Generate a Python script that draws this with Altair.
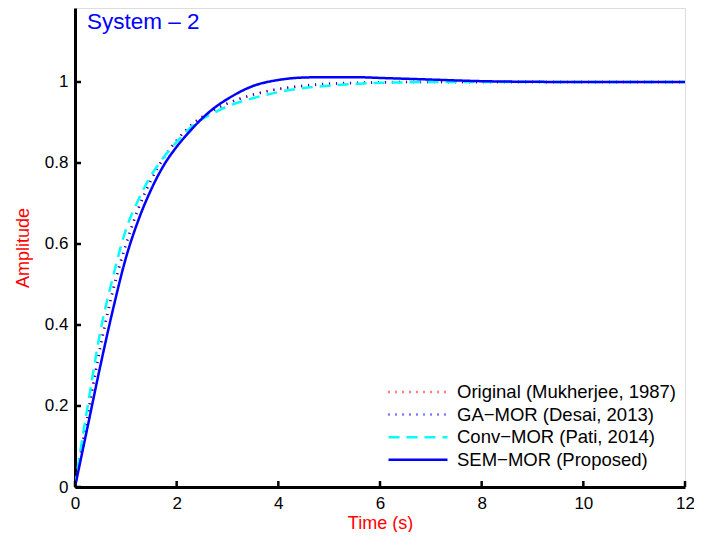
import altair as alt
import pandas as pd

# ---- data ----
t = [0, 0.1, 0.25, 0.5, 0.75, 1.0, 1.25, 1.5, 1.75, 2.0, 2.25, 2.5, 2.75, 3.0,
     3.5, 4.0, 4.5, 5.0, 5.5, 6.0, 6.5, 7.0, 8.0, 9.0, 10.0, 11.0, 12.0]

original = [0, 0.075, 0.18, 0.35, 0.49, 0.60, 0.69, 0.76, 0.815, 0.857, 0.89, 0.914, 0.932, 0.947,
            0.968, 0.982, 0.99, 0.995, 0.997, 0.999, 1.0, 1.0, 1.0, 1.0, 1.0, 1.0, 1.0]
ga_mor = [0, 0.07, 0.175, 0.345, 0.485, 0.597, 0.688, 0.758, 0.813, 0.855, 0.889, 0.913, 0.932, 0.947,
          0.969, 0.983, 0.991, 0.996, 0.998, 0.999, 1.0, 1.0, 1.0, 1.0, 1.0, 1.0, 1.0]
conv_mor = [0, 0.085, 0.20, 0.385, 0.52, 0.635, 0.71, 0.77, 0.815, 0.852, 0.885, 0.908, 0.925, 0.94,
            0.96, 0.975, 0.985, 0.991, 0.995, 0.998, 0.999, 1.0, 1.0, 1.0, 1.0, 1.0, 1.0]
sem_mor = [0, 0.06, 0.15, 0.30, 0.44, 0.565, 0.66, 0.735, 0.795, 0.84, 0.877, 0.91, 0.937, 0.958,
           0.99, 1.005, 1.011, 1.012, 1.012, 1.010, 1.008, 1.006, 1.002, 1.0005, 1.0, 1.0, 1.0]

names = ["Original (Mukherjee, 1987)", "GA\u2212MOR (Desai, 2013)",
         "Conv\u2212MOR (Pati, 2014)", "SEM\u2212MOR (Proposed)"]
series_values = [original, ga_mor, conv_mor, sem_mor]
colors = ["#FF0000", "#0000FF", "#00FFFF", "#0000FF"]
dashes = [[1, 6], [1, 6], [11, 7], [1, 0]]
widths = [2.5, 2.5, 4, 4]

x_ticks = [0, 2, 4, 6, 8, 10, 12]
y_ticks = [0, 0.2, 0.4, 0.6, 0.8, 1.0]
panel_label = ["System \u2013 2"]

rows = []
for name, vals in zip(names, series_values):
    for ti, vi in zip(t, vals):
        rows.append({"t": ti, "v": vi, "series": name})
df = pd.DataFrame(rows)

W, H = 610, 479
FONT = "Liberation Sans"
SYM = 17  # nominal symbol box (sets legend row height)

x_axis = alt.Axis(values=x_ticks, format="~g", title="Time (s)", titleColor="#FF0000",
                  titleFontSize=18, titleFontWeight="normal", titleFont=FONT, titlePadding=3,
                  labelFont=FONT, labelFontSize=17, labelColor="black", labelPadding=8,
                  labelFlush=False, ticks=False, grid=False, domainColor="black", domainWidth=3)
y_axis = alt.Axis(values=y_ticks, format="~g", title="Amplitude", titleColor="#FF0000",
                  titleFontSize=18, titleFontWeight="normal", titleFont=FONT, titlePadding=12,
                  labelFont=FONT, labelFontSize=17, labelColor="black", labelPadding=7,
                  labelFlush=False, ticks=False, grid=False, domainColor="black", domainWidth=3)

x_scale = alt.Scale(domain=[0, 12], nice=False)
y_scale = alt.Scale(domain=[0, 1.1827], nice=False)

leg = alt.Legend(title=None, orient="none", legendX=333, legendY=374, padding=0,
                 labelFont=FONT, labelFontSize=18.5, labelColor="black", labelOffset=29,
                 labelLimit=0, rowPadding=2.6, symbolSize=SYM * SYM,
                 symbolType="M-3.47,0H3.47")

lines = alt.Chart(df).mark_line(interpolate="monotone", clip=True).encode(
    x=alt.X("t:Q", scale=x_scale, axis=x_axis),
    y=alt.Y("v:Q", scale=y_scale, axis=y_axis),
    color=alt.Color("series:N", scale=alt.Scale(domain=names, range=colors), legend=leg),
    strokeDash=alt.StrokeDash("series:N", scale=alt.Scale(domain=names, range=dashes), legend=leg),
    strokeWidth=alt.StrokeWidth("series:N", scale=alt.Scale(domain=names, range=widths), legend=leg),
)

ytick_layer = alt.Chart(pd.DataFrame({"v": y_ticks})).mark_rule(color="black", strokeWidth=2.5).encode(
    y=alt.Y("v:Q", scale=y_scale, axis=y_axis), x=alt.value(0), x2=alt.value(6))
xtick_layer = alt.Chart(pd.DataFrame({"t": x_ticks})).mark_rule(color="black", strokeWidth=2.5).encode(
    x=alt.X("t:Q", scale=x_scale, axis=x_axis), y=alt.value(H), y2=alt.value(H - 6))

label_layer = alt.Chart(pd.DataFrame({"label": panel_label})).mark_text(
    align="left", baseline="alphabetic", font=FONT, fontSize=22.5, color="#0000FF"
).encode(text="label:N", x=alt.value(12), y=alt.value(21))

chart = alt.layer(lines, ytick_layer, xtick_layer, label_layer).properties(
    width=W, height=H,
    autosize=alt.AutoSizeParams(type="none"),
    padding={"left": 67, "top": 0, "right": 9, "bottom": 45},
).configure_view(strokeWidth=0).configure(background="white")

chart.save("out.html", embed_options={"renderer": "svg", "actions": False})
